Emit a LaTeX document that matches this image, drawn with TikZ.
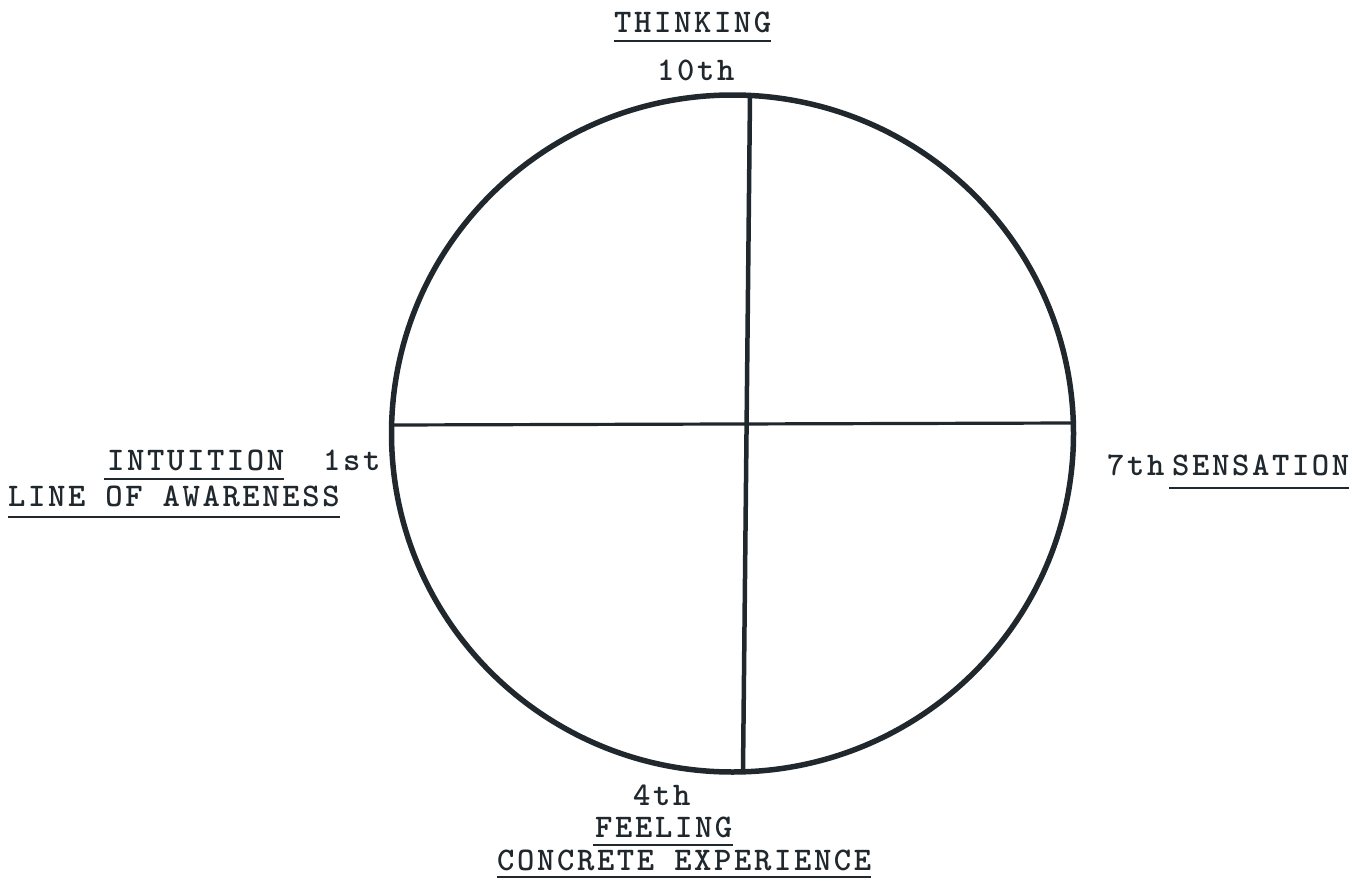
\documentclass[tikz,border=0pt]{standalone}
\usepackage{fontspec}
\usetikzlibrary{shapes.geometric}
\definecolor{ink}{RGB}{32,40,46}
\newfontfamily\typewf{lmmonolt10-bold.otf}[LetterSpace=8]
\newcommand{\typew}{\typewf\fontsize{33}{38}\selectfont}
\tikzset{
  lbl/.style={font=\typew, text=ink, inner sep=0pt, anchor=base west},
  uline/.style={draw=ink, line width=2.8pt},
  rim/.style={draw=ink, line width=5.5pt, ellipse, inner sep=0pt},
  axis/.style={draw=ink, line width=4.5pt}
}
\begin{document}
\begin{tikzpicture}[x=1pt,y=-1pt]
\useasboundingbox (0,0) rectangle (1371,878);
% circle
\node[rim, minimum width=682pt, minimum height=677pt] (c) at (732.5,433.5) {};
% axis end points
\coordinate (top) at (750,96);
\coordinate (bot) at (743,771);
\coordinate (lft) at (392,425);
\coordinate (rgt) at (1073,423);
\draw[axis] (top) -- (bot);
\draw[axis, line width=3.2pt] (lft) -- (rgt);
% labels
\node[lbl] (think) at (614,32) {THINKING};
\draw[uline] ([yshift=-9pt]think.base west) -- ([yshift=-9pt]think.base east);
\node[lbl] (ten) at (657,80) {10th};
\node[lbl] (intu) at (107,470) {INTUITION};
\draw[uline] ([yshift=-9pt,xshift=-3pt]intu.base west) -- ([yshift=-9pt]intu.base east);
\node[lbl] (first) at (323,470) {1st};
\node[lbl] (aware) at (8,506) {LINE OF AWARENESS};
\draw[uline] ([yshift=-11pt]aware.base west) -- ([yshift=-11pt]aware.base east);
\node[lbl] (seventh) at (1107,475) {7th};
\node[lbl] (sens) at (1172,475) {SENSATION};
\draw[uline] ([yshift=-13pt,xshift=-3pt]sens.base west) -- ([yshift=-13pt]sens.base east);
\node[lbl] (fourth) at (633,805) {4th};
\node[lbl] (feel) at (595,837) {FEELING};
\draw[uline] ([yshift=-8pt,xshift=-2pt]feel.base west) -- ([yshift=-8pt]feel.base east);
\node[lbl] (conc) at (497,870) {CONCRETE EXPERIENCE};
\draw[uline] ([yshift=-7pt]conc.base west) -- ([yshift=-7pt]conc.base east);
\end{tikzpicture}
\end{document}
